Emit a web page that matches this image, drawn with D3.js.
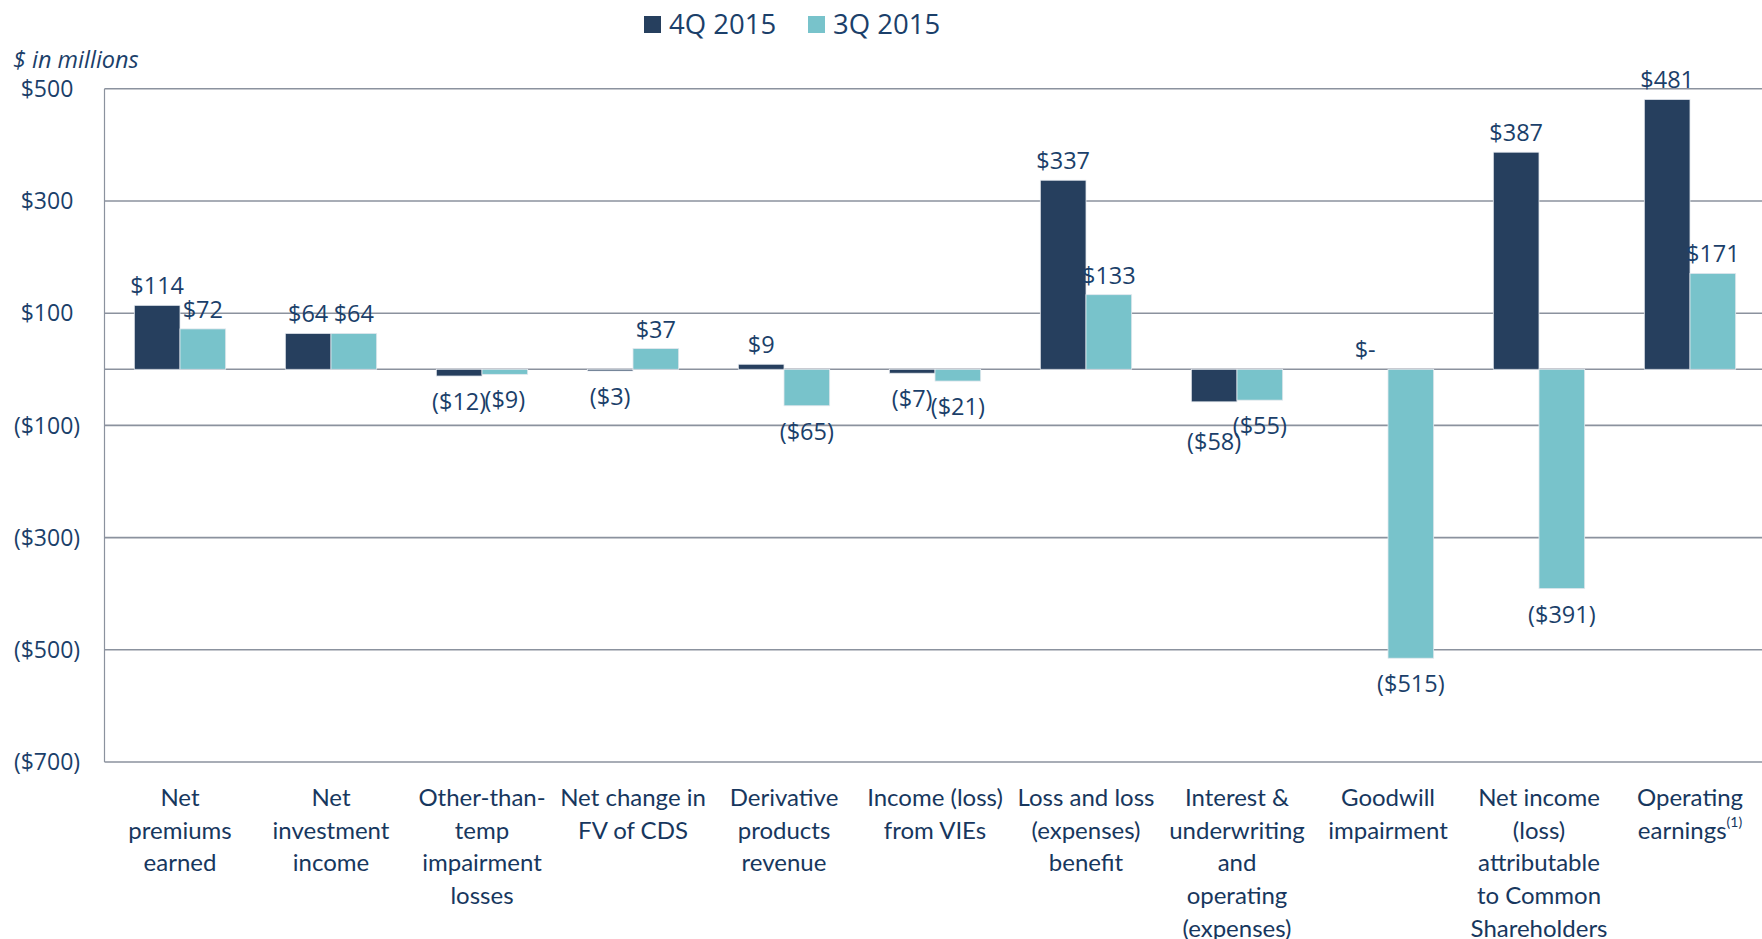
<!DOCTYPE html>
<meta charset="utf-8">
<style>
  body { margin: 0; background: #fff; }
  svg { display: block; }
  .val, .tick-lbl, .legend text { font-family: "Open Sans", sans-serif; fill: #1b3f6a; }
  .cat { font-family: Lato, sans-serif; fill: #17375e; font-size: 24px; }
</style>
<body>
<script src="https://d3js.org/d3.v7.min.js"></script>
<script>

// chart data
var categories = [
  ["Net", "premiums", "earned"],
  ["Net", "investment", "income"],
  ["Other-than-", "temp", "impairment", "losses"],
  ["Net change in", "FV of CDS"],
  ["Derivative", "products", "revenue"],
  ["Income (loss)", "from VIEs"],
  ["Loss and loss", "(expenses)", "benefit"],
  ["Interest &", "underwriting", "and", "operating", "(expenses)"],
  ["Goodwill", "impairment"],
  ["Net income", "(loss)", "attributable", "to Common", "Shareholders"],
  ["Operating", "earnings"]
];
var series = ["4Q 2015", "3Q 2015"];
var q4 = [114, 64, -12, -3, 9, -7, 337, -58, 0, 387, 481];
var q3 = [72, 64, -9, 37, -65, -21, 133, -55, -515, -391, 171];
var yTicks = [500, 300, 100, -100, -300, -500, -700];
var colors = ["#263f5e", "#78c3cb"];

var margin = {top: 88.8, left: 104.5},
    width = 1661,
    height = 673.2;

var svg = d3.select("body").append("svg")
    .attr("width", 1762)
    .attr("height", 939);

var g = svg.append("g")
    .attr("transform", "translate(" + margin.left + "," + margin.top + ")");

var x = d3.scaleBand()
    .domain(d3.range(categories.length))
    .range([0, width])
    .paddingInner(0.395)
    .paddingOuter(0.1975);

var x1 = d3.scaleBand()
    .domain([0, 1])
    .range([0, x.bandwidth()]);

var y = d3.scaleLinear()
    .domain([-700, 500])
    .range([height, 0]);

function fmt(v) {
  if (v > 0) return "$" + v;
  if (v < 0) return "($" + (-v) + ")";
  return "$-";
}

// gridlines
g.selectAll(".grid")
    .data(yTicks.concat([0]))
  .enter().append("line")
    .attr("x1", 0)
    .attr("x2", width)
    .attr("y1", function(d) { return y(d); })
    .attr("y2", function(d) { return y(d); })
    .attr("stroke", "#8b929e")
    .attr("stroke-width", 1.6);

// left axis line
g.append("line")
    .attr("x1", 0).attr("x2", 0)
    .attr("y1", 0).attr("y2", height)
    .attr("stroke", "#8b929e")
    .attr("stroke-width", 1.2);

// y tick labels
svg.selectAll(".tick-lbl")
    .data(yTicks)
  .enter().append("text")
    .attr("class", "tick-lbl")
    .attr("x", 47)
    .attr("y", function(d) { return margin.top + y(d); })
    .attr("dy", "0.36em")
    .attr("text-anchor", "middle")
    .style("font-size", "23px")
    .text(fmt);

svg.append("text")
    .attr("x", 13)
    .attr("y", 68)
    .style("font-family", "'Open Sans', sans-serif")
    .style("font-style", "italic")
    .style("font-size", "23.5px")
    .style("fill", "#1b3f6a")
    .text("$ in millions");

// bars
var rows = [];
categories.forEach(function(c, i) {
  rows.push({i: i, s: 0, v: q4[i]});
  rows.push({i: i, s: 1, v: q3[i]});
});

g.selectAll(".bar")
    .data(rows)
  .enter().append("rect")
    .attr("class", "bar")
    .attr("x", function(d) { return x(d.i) + x1(d.s); })
    .attr("width", x1.bandwidth())
    .attr("y", function(d) { return y(Math.max(0, d.v)); })
    .attr("height", function(d) { return Math.abs(y(d.v) - y(0)); })
    .attr("fill", function(d) { return colors[d.s]; })
    .attr("stroke", function(d) { return d.v === 0 ? "none" : "#e4e8ee"; })
    .attr("stroke-width", 0.8);

// value labels
var vals = g.selectAll(".val")
    .data(rows)
  .enter().append("text")
    .attr("class", "val")
    .attr("x", function(d) { return x(d.i) + x1(d.s) + x1.bandwidth() / 2; })
    .attr("y", function(d) { return d.v >= 0 ? y(d.v) - 11 : y(d.v) + 34; })
    .attr("text-anchor", "middle")
    .style("font-size", "23.5px")
    .text(function(d) { return fmt(d.v); });

// push the first negative label of a pair down when the two really collide
var nodes = vals.nodes();
for (var k = 0; k < nodes.length; k += 2) {
  var a = nodes[k].getBBox(), b = nodes[k + 1].getBBox();
  var da = d3.select(nodes[k]).datum();
  var overlapX = (a.x + a.width) - b.x > 5;
  var overlapY = Math.abs(a.y - b.y) < a.height * 0.5;
  if (da.v < 0 && overlapX && overlapY) {
    var sel = d3.select(nodes[k]);
    sel.attr("y", +sel.attr("y") + 14);
  }
}

// category labels
var cat = g.selectAll(".cat")
    .data(categories)
  .enter().append("text")
    .attr("class", "cat")
    .attr("text-anchor", "middle")
    .attr("transform", function(d, i) {
      return "translate(" + (x(i) + x.bandwidth() / 2) + "," + (806 - margin.top) + ")";
    });

cat.each(function(lines) {
  var t = d3.select(this);
  lines.forEach(function(l, k) {
    t.append("tspan")
        .attr("x", 0)
        .attr("y", k * 32.7)
        .text(l);
  });
});

// superscript on last category
cat.filter(function(d, i) { return i === categories.length - 1; })
  .select("tspan:last-child")
    .append("tspan")
    .attr("dy", -12)
    .style("font-size", "14px")
    .text("(1)");

// legend
var legend = svg.append("g").attr("class", "legend");
var lx = [644, 808];
series.forEach(function(s, i) {
  legend.append("rect")
      .attr("x", lx[i])
      .attr("y", 16)
      .attr("width", 17)
      .attr("height", 17)
      .attr("fill", colors[i]);
  legend.append("text")
      .attr("x", lx[i] + 25)
      .attr("y", 34)
      .style("font-size", "27.5px")
      .text(s);
});

</script>
</body>
